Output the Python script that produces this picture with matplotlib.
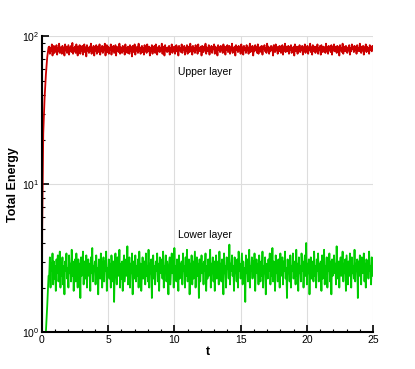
import numpy as np
import matplotlib
matplotlib.use("Agg")
import matplotlib.pyplot as plt
from matplotlib.ticker import MultipleLocator, LogLocator, NullFormatter

plt.rcParams['font.family'] = ['Liberation Sans', 'DejaVu Sans']

# start-up ramps (t, energy)
upper_ramp_t = [0.0, 0.02, 0.1, 0.2, 0.3, 0.4, 0.5]
upper_ramp_e = [1.0, 5.0, 22.0, 38.0, 55.0, 72.0, 84.0]
lower_ramp_t = [0.3, 0.4, 0.5]
lower_ramp_e = [1.0, 1.5, 2.4]

# evenly sampled from t = 0.55 to t = 25
t_first, t_last = 0.55, 25.0
upper_e = [
    85, 76, 83, 79, 88, 74, 82, 86, 77, 84,
    80, 87, 75, 83, 79, 89, 77, 84, 81, 76,
    86, 78, 83, 74, 88, 80, 85, 77, 82, 87,
    75, 84, 79, 86, 78, 90, 76, 83, 80, 85,
    77, 88, 81, 74, 85, 79, 87, 76, 84, 80,
    86, 75, 82, 88, 78, 84, 73, 87, 80, 83,
    77, 85, 79, 89, 76, 83, 81, 86, 74, 84,
    80, 87, 76, 82, 85, 78, 88, 75, 83, 79,
    86, 77, 84, 80, 89, 74, 82, 87, 78, 85,
    76, 83, 81, 88, 75, 84, 79, 86, 77, 82,
    87, 74, 85, 80, 83, 78, 89, 76, 84, 81,
    77, 86, 79, 84, 75, 88, 80, 83, 77, 85,
    82, 76, 87, 79, 84, 73, 86, 81, 78, 88,
    75, 83, 80, 85, 77, 89, 79, 84, 76, 82,
    86, 78, 83, 75, 87, 80, 84, 77, 88, 79,
    81, 85, 74, 83, 79, 87, 76, 84, 80, 86,
    77, 88, 82, 75, 84, 79, 86, 78, 83, 80,
    89, 76, 82, 85, 74, 87, 80, 83, 78, 84,
    79, 86, 75, 83, 81, 88, 77, 84, 80, 85,
    76, 82, 87, 79, 84, 74, 86, 80, 83, 78,
    88, 77, 84, 81, 86, 75, 83, 79, 87, 76,
    82, 85, 78, 89, 80, 84, 75, 86, 79, 83,
    77, 87, 81, 84, 76, 88, 79, 83, 80, 85,
    74, 86, 82, 78, 85, 80, 89, 76, 84, 81,
    79, 87, 75, 83, 80, 86, 77, 84, 82, 88,
    76, 85, 79, 83, 74, 87, 81, 84, 78, 86,
    80, 83, 77, 88, 79, 85, 75, 84, 81, 87,
    78, 82, 86, 76, 84, 80, 89, 77, 83, 79,
    85, 74, 87, 81, 84, 78, 86, 80, 83, 76,
    88, 79, 84, 75, 86, 81, 83, 77, 87, 80,
    84, 76, 82, 89, 78, 85, 80, 86, 74, 83,
    79, 87, 81, 84, 77, 88, 76, 83, 80, 85,
    78, 86, 75, 84, 82, 87, 79, 83, 77, 89,
    80, 85, 76, 83, 79, 86, 81, 84, 74, 87,
    82, 78, 88, 80, 84, 76, 85, 79, 86, 81,
    77, 83, 87, 75, 84, 80, 89, 78, 85, 82,
    79, 86, 76, 84, 81, 87, 77, 83, 80, 85,
    74, 88, 82, 79, 85, 76, 84, 80, 87, 78,
    83, 81, 86, 75, 84, 79, 88, 77, 85, 80,
    86, 76, 83, 81, 89, 78, 84, 75, 87, 82,
    79, 85, 77, 84, 80, 88, 76, 83, 81, 86,
    75, 87, 82, 78, 85, 80, 84, 77, 89, 79,
    84, 76, 86, 81, 83, 78, 87, 75, 84, 80,
    88, 79, 82, 85, 77, 86, 81, 84, 74, 87,
    80, 83, 78, 89, 76, 85, 82, 79, 86, 81,
    77, 84, 80, 87, 75, 83, 79, 88, 82, 85,
    78, 86, 81, 84, 76, 87, 80, 83, 79, 89,
    82, 77, 85, 80, 86, 75, 84, 81, 88, 78,
    85, 80, 83, 76, 87, 81, 84, 79, 86, 82,
]
lower_e = [
    2.4, 3.2, 2.0, 2.9, 2.6, 3.4, 2.1, 3.0, 2.3, 2.8,
    1.9, 3.1, 2.5, 3.3, 2.2, 2.7, 3.5, 2.0, 2.9, 2.4,
    3.2, 2.1, 2.8, 1.8, 3.0, 2.6, 3.4, 2.3, 2.7, 2.0,
    3.3, 2.5, 2.9, 2.2, 3.6, 2.4, 3.0, 1.9, 2.8, 3.1,
    2.2, 3.4, 2.6, 2.0, 3.1, 2.5, 2.9, 1.7, 3.2, 2.4,
    2.8, 3.5, 2.1, 3.0, 2.6, 2.3, 3.3, 2.0, 2.7, 3.1,
    2.4, 2.9, 1.9, 3.2, 2.5, 3.7, 2.2, 2.8, 2.6, 3.0,
    2.1, 3.3, 2.4, 2.7, 1.8, 3.1, 2.9, 2.3, 3.4, 2.5,
    2.0, 2.8, 3.2, 2.2, 3.0, 2.6, 3.5, 1.9, 2.7, 2.4,
    3.1, 2.3, 2.9, 2.0, 3.3, 2.6, 2.2, 3.0, 1.6, 2.8,
    3.4, 2.5, 2.1, 3.2, 2.7, 2.4, 3.6, 2.0, 2.9, 2.3,
    3.0, 1.9, 2.8, 3.3, 2.2, 2.6, 3.1, 2.4, 3.8, 2.1,
    2.7, 3.2, 2.0, 2.9, 2.5, 3.4, 1.8, 3.0, 2.6, 2.3,
    3.3, 2.2, 2.8, 2.4, 3.1, 2.0, 3.5, 2.6, 2.9, 1.9,
    2.5, 3.2, 2.3, 2.7, 3.0, 2.1, 3.4, 2.4, 2.8, 2.2,
    3.6, 2.0, 2.9, 2.5, 3.1, 1.7, 2.7, 3.3, 2.3, 2.8,
    2.1, 3.0, 2.6, 3.4, 2.2, 2.9, 1.9, 3.2, 2.5, 2.7,
    3.1, 2.3, 3.5, 2.0, 2.8, 2.6, 3.3, 2.2, 3.0, 2.4,
    1.8, 2.9, 3.2, 2.1, 2.7, 3.4, 2.5, 3.0, 2.0, 3.7,
    2.4, 2.8, 2.2, 3.1, 2.6, 1.9, 3.3, 2.3, 2.9, 2.5,
    3.0, 2.1, 3.4, 2.6, 2.8, 2.0, 3.2, 2.4, 3.6, 2.2,
    2.7, 3.1, 1.8, 2.9, 2.5, 3.3, 2.1, 3.0, 2.3, 2.8,
    3.5, 2.0, 2.6, 3.2, 2.4, 2.9, 1.7, 3.1, 2.2, 2.7,
    3.3, 2.5, 2.9, 2.1, 3.0, 2.6, 3.4, 1.9, 2.8, 2.3,
    3.1, 2.4, 2.7, 3.6, 2.0, 2.9, 2.5, 3.2, 2.2, 3.0,
    1.9, 2.8, 3.3, 2.3, 2.6, 3.0, 2.1, 3.5, 2.4, 2.9,
    2.2, 3.1, 2.6, 1.8, 3.4, 2.5, 2.8, 2.0, 3.2, 2.7,
    3.0, 2.3, 3.9, 2.1, 2.9, 2.6, 3.3, 2.4, 2.8, 1.9,
    3.2, 2.5, 2.7, 2.2, 3.1, 2.0, 3.5, 2.6, 2.9, 2.3,
    2.8, 3.4, 2.1, 3.0, 2.4, 2.7, 1.6, 3.3, 2.5, 3.1,
    2.2, 2.9, 3.6, 2.0, 2.8, 2.6, 3.2, 2.3, 3.0, 2.4,
    3.4, 1.9, 2.7, 3.1, 2.5, 2.9, 2.1, 3.3, 2.6, 2.2,
    3.0, 2.4, 3.5, 2.0, 2.8, 2.5, 3.2, 1.8, 2.9, 2.7,
    2.3, 3.1, 2.6, 3.4, 2.1, 2.8, 2.4, 3.7, 2.2, 3.0,
    2.6, 1.9, 3.3, 2.5, 2.9, 2.2, 3.1, 2.7, 2.0, 3.4,
    2.4, 2.8, 3.2, 2.1, 3.0, 2.6, 3.5, 2.3, 2.7, 1.7,
    3.1, 2.5, 2.9, 2.2, 3.3, 2.0, 2.8, 2.6, 3.4, 2.3,
    2.7, 3.0, 2.1, 3.6, 2.4, 2.9, 1.9, 3.2, 2.5, 2.8,
    2.2, 3.4, 2.6, 3.0, 2.0, 2.8, 3.3, 2.4, 4.0, 2.1,
    2.9, 2.5, 3.1, 1.8, 2.7, 3.2, 2.3, 3.0, 2.6, 2.2,
    3.5, 2.4, 2.8, 2.0, 3.1, 2.6, 3.4, 2.2, 2.9, 2.5,
    3.0, 1.9, 3.3, 2.3, 2.7, 3.6, 2.1, 2.8, 2.5, 3.2,
    2.0, 2.9, 2.6, 3.4, 2.2, 3.0, 1.8, 3.1, 2.4, 2.7,
    3.3, 2.5, 2.9, 2.1, 3.8, 2.6, 2.3, 3.0, 2.0, 2.8,
    3.2, 2.4, 2.7, 3.5, 2.2, 2.9, 2.5, 3.1, 1.9, 3.3,
    2.6, 2.1, 3.0, 2.4, 3.4, 2.7, 2.0, 3.2, 2.5, 2.8,
    2.3, 3.6, 2.2, 2.9, 2.6, 3.1, 1.7, 3.0, 2.4, 3.3,
    2.8, 2.1, 3.2, 2.5, 2.7, 3.4, 2.2, 2.9, 2.0, 3.1,
    2.5, 3.0, 2.3, 3.5, 2.6, 2.8, 2.1, 3.2, 2.4, 2.9,
]

t_noise = np.linspace(t_first, t_last, len(upper_e))
t_up = np.concatenate([upper_ramp_t, t_noise])
e_up = np.concatenate([upper_ramp_e, upper_e])
t_lo = np.concatenate([lower_ramp_t, t_noise])
e_lo = np.concatenate([lower_ramp_e, lower_e])

fig = plt.figure(figsize=(4.15, 3.69), dpi=100)
ax = fig.add_axes([0.101, 0.100, 0.798, 0.802])

ax.plot(t_up, e_up, color='#cc0000', lw=1.3)
ax.plot(t_lo, e_lo, color='#00cc00', lw=1.3)

ax.set_yscale('log')
ax.set_xlim(0, 25)
ax.set_ylim(1, 100)
ax.xaxis.set_major_locator(MultipleLocator(5))
ax.xaxis.set_minor_locator(MultipleLocator(1))
ax.yaxis.set_major_locator(LogLocator(base=10))
ax.yaxis.set_minor_locator(LogLocator(base=10, subs=np.arange(2, 10)))
ax.yaxis.set_minor_formatter(NullFormatter())

ax.grid(True, which='major', color='#dddddd', lw=0.8)
ax.set_axisbelow(True)
for s in ['top', 'right']:
    ax.spines[s].set_visible(False)
for s in ['left', 'bottom']:
    ax.spines[s].set_linewidth(1.5)

ax.tick_params(which='major', direction='in', length=5, width=1.2, labelsize=7.5, pad=2)
ax.tick_params(which='minor', direction='in', length=2.5, width=0.8)

ax.set_xlabel('t', fontsize=9, fontweight='bold', labelpad=1)
ax.set_ylabel('Total Energy', fontsize=9, fontweight='bold', labelpad=2)

ax.text(10.3, 57, 'Upper layer', fontsize=7.5, ha='left', va='center')
ax.text(10.3, 4.5, 'Lower layer', fontsize=7.5, ha='left', va='center')

fig.savefig('out.png', dpi=100)
